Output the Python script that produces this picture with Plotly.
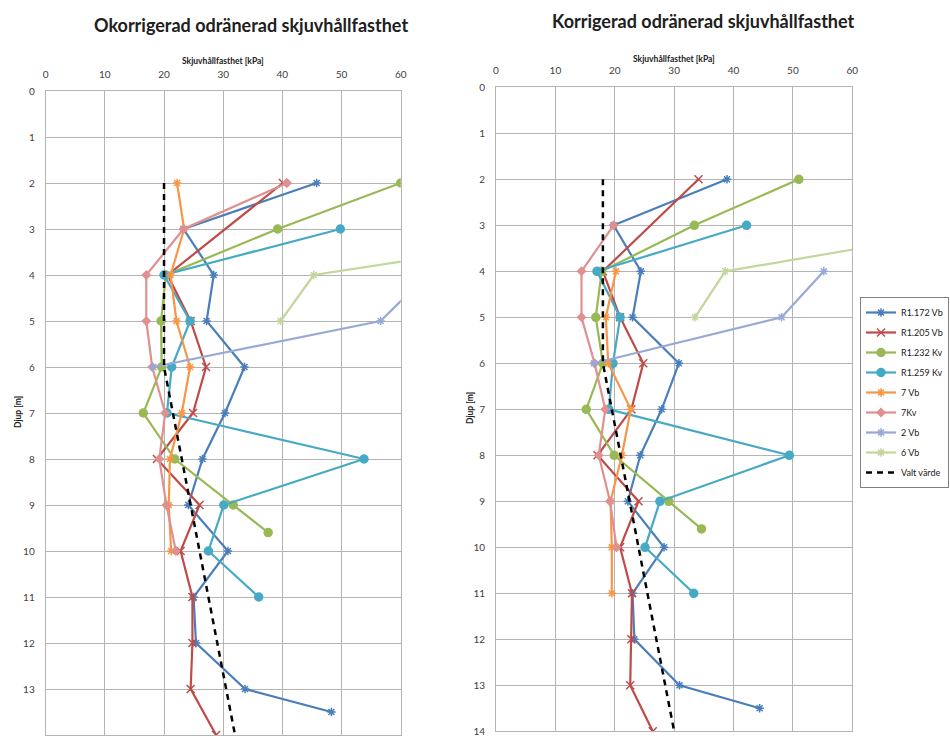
import plotly.graph_objects as go

# ---------------- data ----------------
series_names = ["R1.172 Vb", "R1.205 Vb", "R1.232 Kv", "R1.259 Kv", "7 Vb", "7Kv", "2 Vb", "6 Vb", "Valt värde"]

# depths [m]
r1172_depth = [2, 3, 4, 5, 6, 7, 8, 9, 10, 11, 12, 13, 13.5]
r1205_depth = [2, 4, 5, 6, 7, 8, 9, 10, 11, 12, 13, 14]
r1232_depth = [2, 3, 4, 5, 6, 7, 8, 9, 9.6]
r1259_depth = [3, 4, 5, 6, 7, 8, 9, 10, 11]
vb7_depth_unc = [2, 3, 4, 5, 6, 7, 8, 9, 10]
vb7_depth_cor = [4, 5, 6, 7, 8, 9, 10, 11]
kv7_depth_unc = [2, 3, 4, 5, 6, 7, 8, 9, 10]
kv7_depth_cor = [3, 4, 5, 6, 7, 8, 9, 10]
vb2_depth = [4, 5, 6]
vb6_depth = [3, 4, 5]
valt_depth = [2, 6, 14]

# uncorrected shear strength [kPa]
r1172_unc = [45.8, 23.3, 28.4, 27.2, 33.6, 30.3, 26.5, 24.1, 30.8, 25.0, 25.4, 33.7, 48.3]
r1205_unc = [40.1, 20.6, 24.5, 27.1, 24.9, 18.8, 26.0, 22.8, 24.8, 24.8, 24.5, 28.8]
r1232_unc = [60.0, 39.2, 20.3, 19.5, 19.6, 16.5, 21.8, 31.7, 37.6]
r1259_unc = [49.8, 20.0, 24.4, 21.3, 20.5, 53.8, 30.1, 27.5, 36.0]
vb7_unc = [22.2, 23.4, 21.1, 22.1, 24.4, 23.0, 21.0, 20.8, 21.2]
kv7_unc = [40.8, 23.3, 17.0, 17.0, 18.0, 20.2, 19.2, 20.4, 22.0]
vb2_unc = [64.5, 56.6, 18.2]
vb6_unc = [96.0, 45.3, 39.7]
valt_unc = [20.0, 20.0, 32.0]

# corrected shear strength [kPa]
r1172_cor = [38.9, 19.8, 24.4, 23.0, 30.8, 27.9, 24.3, 22.2, 28.3, 23.0, 23.3, 30.9, 44.4]
r1205_cor = [34.1, 18.0, 20.9, 24.8, 22.8, 17.1, 24.0, 20.9, 22.9, 22.8, 22.6, 26.4]
r1232_cor = [51.0, 33.4, 17.8, 16.8, 18.0, 15.2, 19.9, 29.1, 34.6]
r1259_cor = [42.2, 17.0, 20.9, 19.7, 19.0, 49.4, 27.6, 25.1, 33.3]
vb7_cor = [20.2, 18.5, 18.9, 22.7, 21.2, 19.3, 19.5, 19.5]
kv7_cor = [19.8, 14.4, 14.4, 16.6, 18.4, 17.3, 19.2, 20.3]
vb2_cor = [55.2, 48.1, 16.5]
vb6_cor = [84.0, 38.6, 33.5]
valt_cor = [18.0, 18.0, 30.0]

x_ticks = [0, 10, 20, 30, 40, 50, 60]
y_ticks = list(range(0, 15))

titles = ["Okorrigerad odränerad skjuvhållfasthet", "Korrigerad odränerad skjuvhållfasthet"]
x_title = "Skjuvhållfasthet [kPa]"
y_title = "Djup [m]"

# ---------------- styles ----------------
styles = {
    "R1.172 Vb": dict(color="#4A7EBB", symbol="asterisk-open", size=7),
    "R1.205 Vb": dict(color="#BE4B48", symbol="x-thin-open", size=8),
    "R1.232 Kv": dict(color="#98B954", symbol="circle", size=8),
    "R1.259 Kv": dict(color="#46AAC5", symbol="circle", size=8),
    "7 Vb": dict(color="#F79646", symbol="asterisk-open", size=7),
    "7Kv": dict(color="#E0908F", symbol="diamond", size=6),
    "2 Vb": dict(color="#98A9D6", symbol="asterisk-open", size=7),
    "6 Vb": dict(color="#C3D69B", symbol="asterisk-open", size=7),
}

panels = [
    [("R1.172 Vb", r1172_depth, r1172_unc), ("R1.205 Vb", r1205_depth, r1205_unc),
     ("R1.232 Kv", r1232_depth, r1232_unc), ("R1.259 Kv", r1259_depth, r1259_unc),
     ("7 Vb", vb7_depth_unc, vb7_unc), ("7Kv", kv7_depth_unc, kv7_unc),
     ("2 Vb", vb2_depth, vb2_unc), ("6 Vb", vb6_depth, vb6_unc),
     ("Valt värde", valt_depth, valt_unc)],
    [("R1.172 Vb", r1172_depth, r1172_cor), ("R1.205 Vb", r1205_depth, r1205_cor),
     ("R1.232 Kv", r1232_depth, r1232_cor), ("R1.259 Kv", r1259_depth, r1259_cor),
     ("7 Vb", vb7_depth_cor, vb7_cor), ("7Kv", kv7_depth_cor, kv7_cor),
     ("2 Vb", vb2_depth, vb2_cor), ("6 Vb", vb6_depth, vb6_cor),
     ("Valt värde", valt_depth, valt_cor)],
]

fig = go.Figure()
for i, panel in enumerate(panels):
    xa = "x" if i == 0 else "x2"
    ya = "y" if i == 0 else "y2"
    for name, depth, vals in panel:
        if name == "Valt värde":
            fig.add_trace(go.Scatter(x=vals, y=depth, mode="lines", name=name, legendgroup=name,
                                     line=dict(color="black", width=2.5, dash="6px,5px"),
                                     xaxis=xa, yaxis=ya, showlegend=(i == 1)))
        else:
            s = styles[name]
            fig.add_trace(go.Scatter(x=vals, y=depth, mode="lines+markers", name=name, legendgroup=name,
                                     line=dict(color=s["color"], width=2.2),
                                     marker=dict(color=s["color"], symbol=s["symbol"], size=s["size"],
                                                 line=dict(color=s["color"], width=1.5)),
                                     xaxis=xa, yaxis=ya, showlegend=(i == 1), cliponaxis=True))

W, H = 950, 738
grid = "#B4B4B4"
tickfont = dict(family="Lato", size=10, color="#404040")

def xax(x0, x1, anchor):
    return dict(domain=[x0 / W, x1 / W], range=[0, 60], side="top", tickvals=x_ticks,
                showgrid=True, gridcolor=grid, gridwidth=1, zeroline=False,
                showline=True, linecolor=grid, linewidth=1, mirror=True,
                ticks="outside", ticklen=8, tickcolor="rgba(0,0,0,0)", tickfont=tickfont,
                anchor=anchor, automargin=False, fixedrange=True)

def yax(top, bottom, anchor):
    return dict(domain=[1 - bottom / H, 1 - top / H], range=[14, 0], tickvals=y_ticks,
                showgrid=True, gridcolor=grid, gridwidth=1, zeroline=False,
                showline=True, linecolor=grid, linewidth=1, mirror=True,
                ticks="outside", ticklen=8, tickcolor="rgba(0,0,0,0)", tickfont=tickfont,
                anchor=anchor, automargin=False, fixedrange=True)

fig.update_layout(
    width=W, height=H,
    margin=dict(l=0, r=0, t=0, b=0, autoexpand=False),
    paper_bgcolor="white", plot_bgcolor="white",
    xaxis=xax(45.7, 400.7, "y"), yaxis=yax(91, 735, "x"),
    xaxis2=xax(496, 852.3, "y2"), yaxis2=yax(87.3, 731.3, "x2"),
    legend=dict(x=860 / W, y=1 - 297 / H, xanchor="left", yanchor="top",
                bordercolor="#808080", borderwidth=1, bgcolor="white",
                font=dict(family="Lato", size=9, color="#202020"),
                itemwidth=30, tracegroupgap=1),
    showlegend=True,
)

ann = []
ann.append(dict(text="<b>%s</b>" % titles[0], x=251 / W, y=1 - 25 / H, xref="paper", yref="paper",
                showarrow=False, font=dict(family="Lato", size=18, color="#202020"), xanchor="center", yanchor="middle"))
ann.append(dict(text="<b>%s</b>" % titles[1], x=703 / W, y=1 - 21 / H, xref="paper", yref="paper",
                showarrow=False, font=dict(family="Lato", size=18, color="#202020"), xanchor="center", yanchor="middle"))
for cx, cy in [(223, 61), (674, 59)]:
    ann.append(dict(text="<b>%s</b>" % x_title, x=cx / W, y=1 - cy / H, xref="paper", yref="paper",
                    showarrow=False, font=dict(family="Lato", size=8.5, color="#202020"), xanchor="center", yanchor="middle"))
for cx, cy in [(18, 412), (470, 408)]:
    ann.append(dict(text="<b>%s</b>" % y_title, x=cx / W, y=1 - cy / H, xref="paper", yref="paper",
                    showarrow=False, textangle=-90, font=dict(family="Lato", size=8.5, color="#202020"),
                    xanchor="center", yanchor="middle"))
fig.update_layout(annotations=ann)

fig.write_html("out.html", config={"displayModeBar": False},
               post_script="document.body.style.margin='0';document.body.style.overflow='hidden';")
